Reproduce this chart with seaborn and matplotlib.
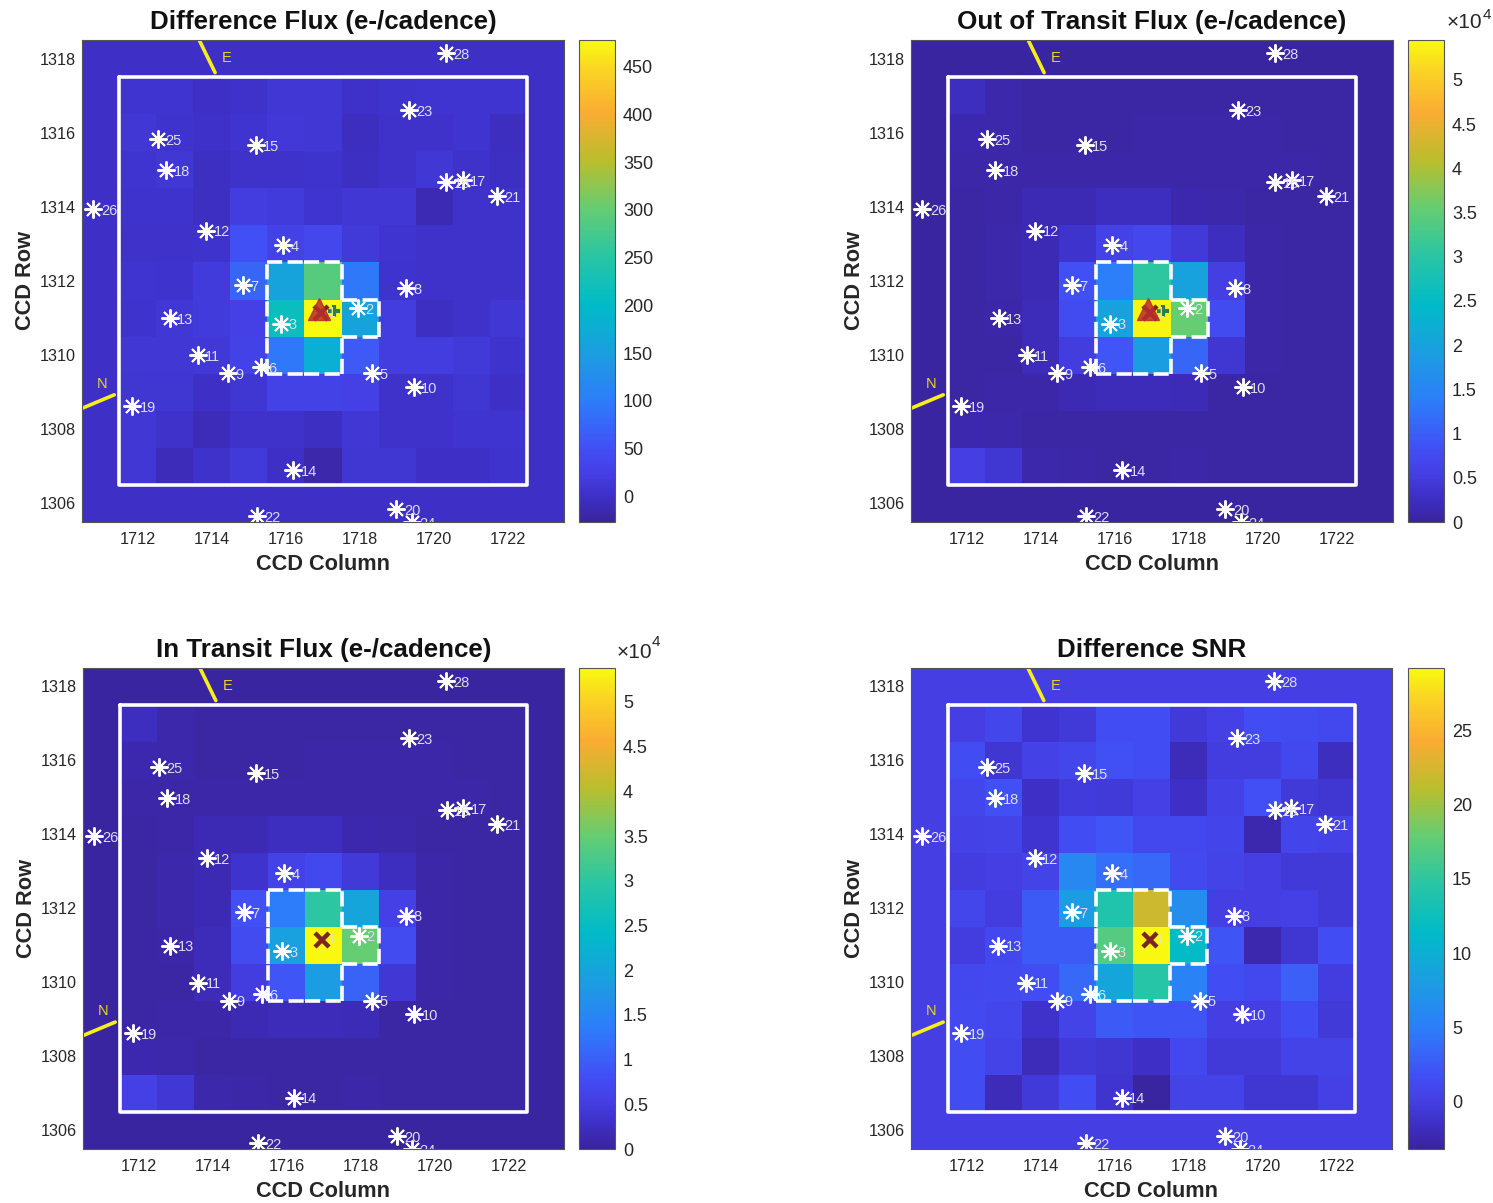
import numpy as np
import seaborn as sns
import matplotlib.pyplot as plt
from matplotlib.colors import LinearSegmentedColormap

sns.set_style('white')
plt.rcParams['font.family'] = ['Liberation Sans', 'DejaVu Sans']

W, H = 1493, 1203

# rows run 1317 -> 1307, columns 1712 -> 1722
diff_flux = [
    [8, 8, 0, 3, 12, 12, 2, 5, 8, 8, 8],
    [12, 5, 2, 8, 14, 12, -5, 3, 3, 8, -5],
    [8, 12, -3, 3, 3, 5, -3, 3, 12, 3, -3],
    [5, 5, -3, 20, 18, 8, 12, 12, -12, 3, 3],
    [3, 3, 5, 50, 30, 38, 15, 8, 3, 3, 3],
    [8, 5, 18, 75, 160, 290, 95, 6, 3, 3, 3],
    [5, 12, 18, 25, 215, 478, 160, 22, -3, 3, 12],
    [12, 12, 14, 30, 95, 180, 60, 20, 20, 15, 5],
    [10, 10, 0, 10, 30, 30, 25, 3, 3, 10, 0],
    [12, 3, -8, 3, 3, -3, 12, 3, 3, 8, 8],
    [12, -8, 3, 15, 0, -18, 10, 10, 0, 0, 5],
]
oot_flux = [
    [.25, .1, .05, .05, .05, .05, .05, .05, .05, .05, .05],
    [.12, .1, .05, .05, .05, .07, .07, .07, .07, .05, .05],
    [.08, .08, .08, .08, .08, .08, .08, .08, .08, .08, .05],
    [.06, .08, .15, .15, .25, .25, .12, .1, .06, .05, .05],
    [.05, .1, .15, .35, .6, .7, .45, .25, .08, .05, .05],
    [.05, .1, .15, .85, 1.4, 3.05, 2.0, .55, .08, .05, .05],
    [.05, .08, .2, .75, 2.0, 5.4, 3.55, .75, .08, .05, .05],
    [.05, .06, .2, .5, .9, 1.9, 1.1, .4, .08, .05, .05],
    [.05, .07, .08, .15, .2, .2, .18, .06, .05, .05, .05],
    [.12, .1, .06, .05, .05, .05, .05, .05, .05, .05, .05],
    [.55, .4, .1, .08, .05, .05, .08, .05, .05, .05, .05],
]
in_flux = [
    [.25, .1, .05, .05, .05, .05, .05, .05, .05, .05, .05],
    [.12, .1, .05, .05, .05, .07, .07, .07, .07, .05, .05],
    [.08, .08, .08, .08, .08, .08, .08, .08, .08, .08, .05],
    [.06, .08, .15, .15, .25, .25, .12, .1, .06, .05, .05],
    [.05, .1, .15, .35, .6, .7, .45, .25, .08, .05, .05],
    [.05, .1, .15, .8, 1.35, 3.0, 2.0, .55, .08, .05, .05],
    [.05, .08, .2, .75, 1.95, 5.35, 3.5, .75, .08, .05, .05],
    [.05, .06, .2, .5, .9, 1.85, 1.05, .4, .08, .05, .05],
    [.05, .07, .08, .15, .2, .2, .18, .06, .05, .05, .05],
    [.12, .1, .06, .05, .05, .05, .05, .05, .05, .05, .05],
    [.55, .4, .1, .08, .05, .05, .08, .05, .05, .05, .05],
]
diff_snr = [
    [0, .8, -1, -.5, 1.5, 1.5, -.5, .2, 1.5, 1.3, 1],
    [1.5, -.8, .3, .8, 1.8, 1.5, -2, -.2, -.2, 1, -1.8],
    [.8, 1.8, -1.5, -.3, -.5, .2, -1.5, .3, 1.7, -.5, -.8],
    [.3, .5, -1, 1.5, 2.2, 1, 1, .7, -2.5, .7, .3],
    [-.2, 0, .5, 6, 4, 3.5, 1.2, .5, 0, -.5, -.5],
    [.8, -.2, 2.5, 8, 14, 22, 6.5, 0, 0, .2, -.5],
    [-.2, 1, 2.5, 2.5, 17, 29, 11.5, 2, -2.5, -.8, 1.5],
    [1, 1.2, 1.5, 3.5, 9, 14.5, 5.5, 1.5, 1, 2.8, -.2],
    [1.2, .8, -1.2, .5, 2.5, 2, 2, 0, 0, 1.5, -.5],
    [1.5, .5, -2, -.5, -.8, -1.5, 1, -.5, -.5, .5, .5],
    [1.5, -2, -.5, 1.5, -1, -3, .5, .5, -.8, -.8, .2],
]

titles = ['Difference Flux (e-/cadence)', 'Out of Transit Flux (e-/cadence)',
          'In Transit Flux (e-/cadence)', 'Difference SNR']
backgrounds = [0, .03, .03, 0]
vmins = [-27, 0, 0, -3.2]
vmaxs = [478, 5.45, 5.38, 29.2]
cbar_ticks = [list(range(0, 500, 50)),
              [0, .5, 1, 1.5, 2, 2.5, 3, 3.5, 4, 4.5, 5],
              [0, .5, 1, 1.5, 2, 2.5, 3, 3.5, 4, 4.5, 5],
              [0, 5, 10, 15, 20, 25]]
x_ticks = [1712, 1714, 1716, 1718, 1720, 1722]
y_ticks = [1318, 1316, 1314, 1312, 1310, 1308, 1306]

star_ids = [2, 3, 4, 5, 6, 7, 8, 9, 10, 11, 12, 13, 14, 15, 16, 17, 18, 19, 20, 21, 22, 23, 24, 25, 26, 28]
star_col = [1717.95, 1715.87, 1715.93, 1718.31, 1715.33, 1714.84, 1719.23, 1714.45, 1719.45, 1713.62,
            1713.85, 1712.86, 1716.2, 1715.18, 1720.33, 1720.77, 1712.77, 1711.86, 1718.98, 1721.68,
            1715.22, 1719.32, 1719.39, 1712.55, 1710.81, 1720.32]
star_row = [1311.27, 1310.85, 1312.96, 1309.51, 1309.69, 1311.9, 1311.81, 1309.51, 1309.14, 1310.0,
            1313.36, 1311.0, 1306.89, 1315.66, 1314.67, 1314.72, 1314.99, 1308.63, 1305.84, 1314.29,
            1305.67, 1316.6, 1305.5, 1315.82, 1313.95, 1318.14]

# optimal aperture pixels
ap_col = [1716, 1717, 1716, 1717, 1718, 1716, 1717]
ap_row = [1312, 1312, 1311, 1311, 1311, 1310, 1310]

parula = LinearSegmentedColormap.from_list('parula', [
    (0.00, (58 / 255, 36 / 255, 158 / 255)),
    (0.053, (62 / 255, 48 / 255, 200 / 255)),
    (0.10, (68 / 255, 63 / 255, 228 / 255)),
    (0.153, (65 / 255, 80 / 255, 245 / 255)),
    (0.25, (45 / 255, 125 / 255, 250 / 255)),
    (0.35, (27 / 255, 158 / 255, 225 / 255)),
    (0.45, (0 / 255, 187 / 255, 200 / 255)),
    (0.55, (40 / 255, 197 / 255, 165 / 255)),
    (0.65, (100 / 255, 205 / 255, 115 / 255)),
    (0.75, (185 / 255, 190 / 255, 45 / 255)),
    (0.85, (250 / 255, 172 / 255, 50 / 255)),
    (0.945, (250 / 255, 215 / 255, 35 / 255)),
    (1.00, (248 / 255, 250 / 255, 15 / 255)),
])


def px_rect(x0, y0, x1, y1):
    return [x0 / W, 1 - y1 / H, (x1 - x0) / W, (y1 - y0) / H]


def cx(v):
    return np.asarray(v, dtype=float) - 1710.5


def cy(v):
    return 1318.5 - np.asarray(v, dtype=float)


axes_px = [(82, 40, 564, 522), (911, 40, 1393, 522), (83, 668, 564, 1149), (911, 668, 1392, 1149)]
cbar_px = [(579, 40, 615, 522), (1408, 40, 1444, 522), (579, 668, 615, 1149), (1408, 668, 1444, 1149)]
grids = [diff_flux, oot_flux, in_flux, diff_snr]
# pixel anchors of the x10^4 note: left of x10, centre y, left of the 4, centre y
exp_px = {1: (1447, 23, 1483, 15), 2: (617, 652, 652, 642)}

fig = plt.figure(figsize=(W / 100, H / 100), dpi=100)
text_c = '#262626'

for i in range(4):
    ax = fig.add_axes(px_rect(*axes_px[i]))
    cax = fig.add_axes(px_rect(*cbar_px[i]))
    grid = np.pad(np.array(grids[i], dtype=float), 1, constant_values=backgrounds[i])
    sns.heatmap(grid, ax=ax, cbar_ax=cax, cmap=parula, vmin=vmins[i], vmax=vmaxs[i],
                xticklabels=False, yticklabels=False, cbar_kws={'ticks': cbar_ticks[i]})

    ax.set_xticks(cx(x_ticks))
    ax.set_xticklabels([str(t) for t in x_ticks], rotation=0)
    ax.set_yticks(cy(y_ticks))
    ax.set_yticklabels([str(t) for t in y_ticks], rotation=0)
    ax.tick_params(direction='in', top=True, right=True, bottom=True, left=True, length=4, width=.7,
                   color='#333333', labelsize=11.7, labelcolor=text_c)
    ax.tick_params(axis='x', pad=7)
    ax.tick_params(axis='y', pad=4.5)
    ax.set_xlabel('CCD Column', fontsize=15.7, fontweight='bold', color=text_c, labelpad=5)
    ax.set_ylabel('CCD Row', fontsize=15.7, fontweight='bold', color=text_c, labelpad=2.5)
    ax.set_title(titles[i], fontsize=18.7, fontweight='bold', color='#111111', pad=8)
    for s in ax.spines.values():
        s.set_visible(True)
        s.set_color('#555555')
        s.set_linewidth(.8)

    cax.tick_params(direction='in', right=True, length=3.6, width=.7, color='#333333',
                    labelsize=13, labelcolor=text_c, pad=5.7)
    cb = ax.collections[0].colorbar
    cb.ax.set_yticklabels([f'{t:g}' for t in cbar_ticks[i]])
    cb.outline.set_visible(True)
    cb.outline.set_edgecolor('#555555')
    cb.outline.set_linewidth(.8)
    if i in exp_px:
        x1, y1, x2, y2 = exp_px[i]
        fig.text(x1 / W, 1 - y1 / H, '×10', fontsize=15, color=text_c, va='center', ha='left')
        fig.text(x2 / W, 1 - y2 / H, '4', fontsize=11, color=text_c, va='center', ha='left')

    # mask outline
    ax.plot(cx([1711.5, 1722.5, 1722.5, 1711.5, 1711.5]), cy([1317.5, 1317.5, 1306.5, 1306.5, 1317.5]),
            color='white', lw=2.6, solid_joinstyle='round')

    # aperture, drawn one pixel edge at a time
    ap = set(zip(ap_col, ap_row))
    for c, r in ap:
        edges = [((c - .5, r + .5), (c + .5, r + .5), (c, r + 1)),
                 ((c - .5, r - .5), (c + .5, r - .5), (c, r - 1)),
                 ((c - .5, r - .5), (c - .5, r + .5), (c - 1, r)),
                 ((c + .5, r - .5), (c + .5, r + .5), (c + 1, r))]
        for a, b, nb in edges:
            if nb not in ap:
                ax.plot(cx([a[0], b[0]]), cy([a[1], b[1]]), color='white', lw=2.6,
                        linestyle=(0, (4.2, 1.5)))

    # stars
    ax.plot(cx(star_col), cy(star_row), linestyle='none', marker=(8, 2, 0), ms=13, mew=1.4, color='white')
    for n, c, r in zip(star_ids, star_col, star_row):
        ax.text(cx(c + .2), cy(r - .05), str(n), fontsize=10.5, color='#dcdcec', va='center', ha='left',
                clip_on=True)

    # target star and centroid markers
    ax.text(cx(1717.13), cy(1311.15), '1', fontsize=10.5, color='#e8e8a0', va='center', ha='left', clip_on=True)
    ax.plot(cx(1716.95), cy(1311.15), linestyle='none', marker='x', ms=10.5, mew=3.2, color='#7d2328')
    if i < 2:
        ax.plot(cx(1716.89), cy(1311.25), linestyle='none', marker='^', ms=16, color='#b92d2d', alpha=.85)
        ax.plot(cx(1717.29), cy(1311.18), linestyle='none', marker='+', ms=9, mew=3, color='#2d7d4b')

    # compass
    ax.plot(cx([1713.67, 1714.09]), cy([1318.48, 1317.62]), color='#f7ef1a', lw=2.6)
    ax.plot(cx([1710.51, 1711.37]), cy([1308.57, 1308.93]), color='#f7ef1a', lw=2.6)
    ax.text(cx(1714.4), cy(1318.02), 'E', fontsize=10.5, color='#e8d820', ha='center', va='center')
    ax.text(cx(1711.04), cy(1309.22), 'N', fontsize=10.5, color='#e8d820', ha='center', va='center')

    ax.set_xlim(0, 13)
    ax.set_ylim(13, 0)

fig.savefig('out.png', dpi=100)
